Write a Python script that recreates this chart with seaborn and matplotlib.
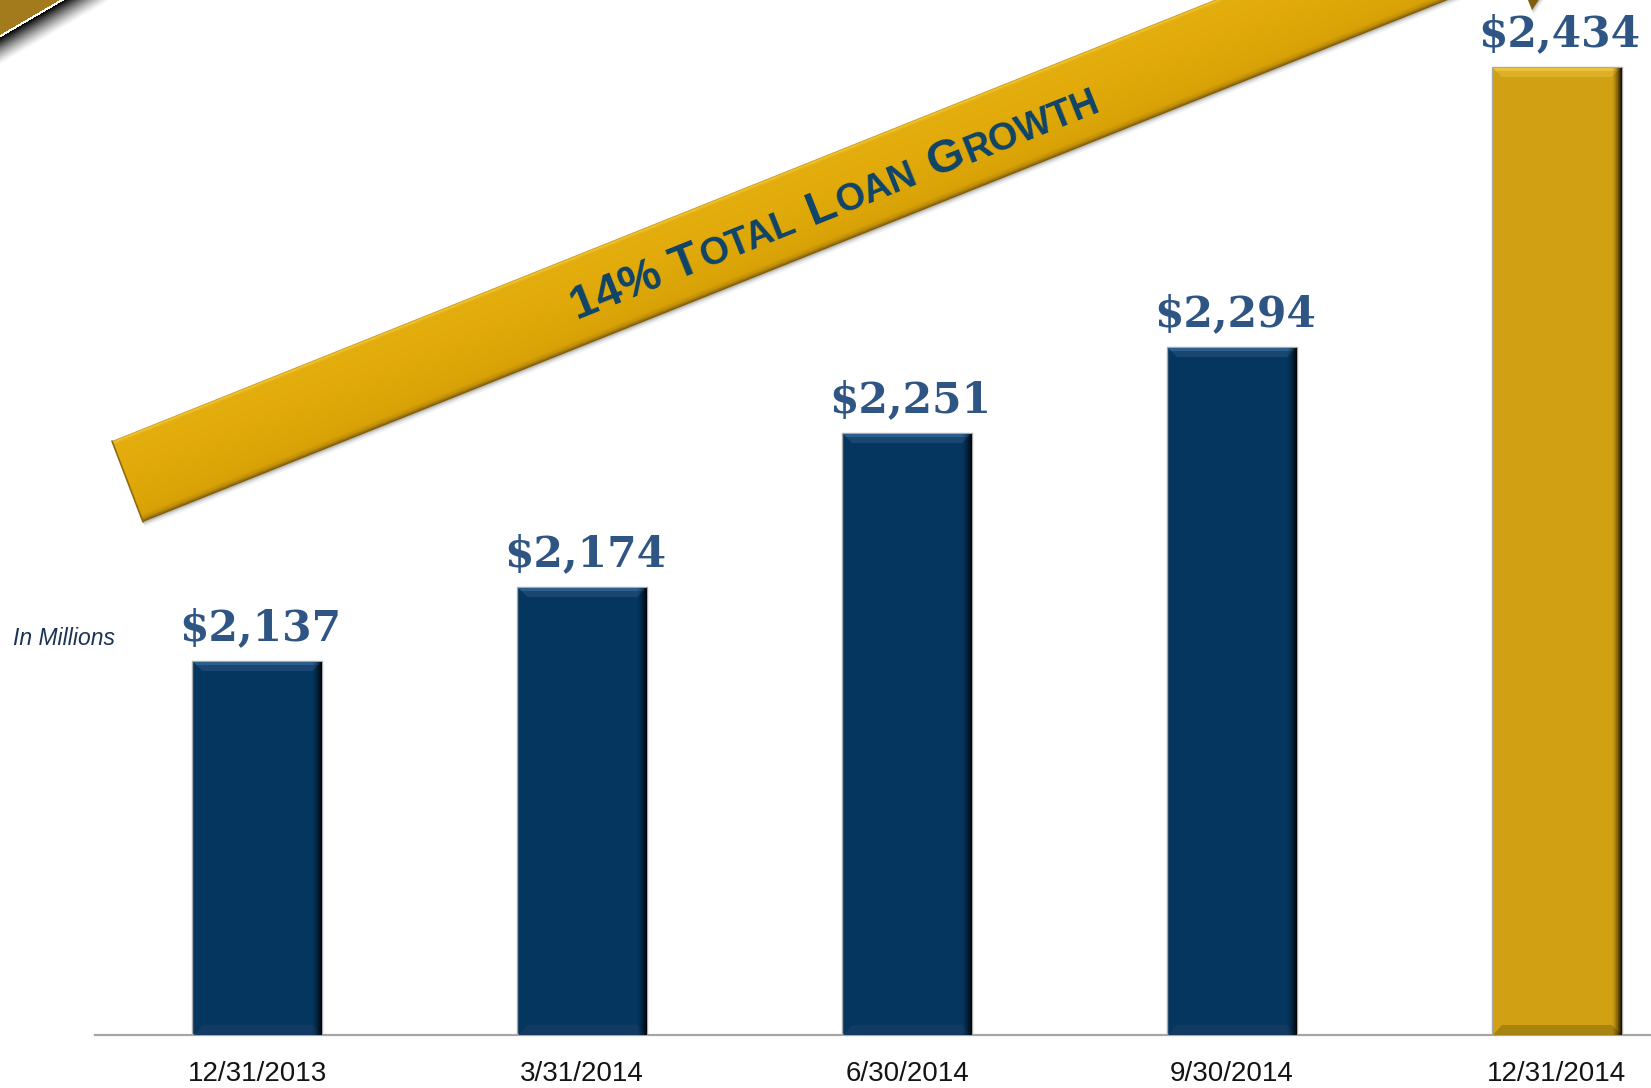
import numpy as np
import pandas as pd
import matplotlib
matplotlib.use("Agg")
import matplotlib.pyplot as plt
import seaborn as sns
from matplotlib.patches import Polygon, Rectangle

# ---- data -------------------------------------------------------------
quarters = ["12/31/2013", "3/31/2014", "6/30/2014", "9/30/2014", "12/31/2014"]
loans = [2137, 2174, 2251, 2294, 2434]          # total loans, $ millions
value_labels = ["$2,137", "$2,174", "$2,251", "$2,294", "$2,434"]
bar_colors = ["#05365F", "#05365F", "#05365F", "#05365F", "#D1A013"]
growth_pieces = [("14% T", 1.0), ("OTAL", 0.8), ("L", 1.0), ("OAN", 0.8),
                 ("G", 1.0), ("ROWTH", 0.8)]
growth_gaps = [0, 0, 1, 0, 1, 0]                # word space before piece
unit_note = "In Millions"

# ---- figure -----------------------------------------------------------
W, H = 1651, 1088
sns.set_theme(style="white")
fig = plt.figure(figsize=(W / 100, H / 100), dpi=100)
fig.patch.set_facecolor("white")

ax = fig.add_axes([95 / W, 53 / H, 1 - 95 / W, 1 - 53 / H])
df = pd.DataFrame({"quarter": quarters, "loans": loans})
sns.barplot(data=df, x="quarter", y="loans", hue="quarter", palette=bar_colors,
            width=0.40, saturation=1, legend=False, ax=ax,
            edgecolor="#A9A9A9", linewidth=1.0)
ax.set_ylim(1950, 2467.5)
ax.set_xlim(-0.5, 4.29)
ax.set_xlabel("")
ax.set_ylabel("")
ax.set_yticks([])
for side in ("left", "right", "top"):
    ax.spines[side].set_visible(False)
ax.spines["bottom"].set_color("#A6A6A6")
ax.spines["bottom"].set_linewidth(1.6)
ax.tick_params(axis="x", length=0, pad=19, labelsize=20, labelcolor="#141414")
for t in ax.get_xticklabels():
    t.set_fontfamily(["Liberation Sans", "DejaVu Sans"])
ax.patch.set_alpha(0)

for i, (v, lbl) in enumerate(zip(loans, value_labels)):
    ax.annotate(lbl, (i, v), xytext=(2, 15), textcoords="offset points",
                ha="center", va="baseline", fontsize=30.5, fontweight="bold",
                fontfamily=["DejaVu Serif"], color="#2E5584", zorder=5)

# ---- overlay in pixel coordinates (y down) -----------------------------
ov = fig.add_axes([0, 0, 1, 1], zorder=3)
ov.set_xlim(0, W)
ov.set_ylim(H, 0)
ov.axis("off")
ov.patch.set_alpha(0)

# bevels on the bars
fig.canvas.draw()
ylo = ax.get_ylim()[0]
bevel_cols = {"#05365F": ("#2E5E8C", "#1A4674", "#123A63"),
              "#D1A013": ("#EDC13A", "#DDB02A", "#A98310")}
for patch, col in zip(ax.patches, bar_colors):
    x0, w, top = patch.get_x(), patch.get_width(), patch.get_height()
    (L, yb), (R, yt) = ax.transData.transform([(x0, ylo), (x0 + w, top)])
    B, T = H - yb, H - yt
    hi, mid, lo = bevel_cols[col]
    b = 10
    ov.add_patch(Polygon([(L + 1, T + 1), (R - 1, T + 1), (R - b, T + b), (L + b, T + b)],
                         closed=True, fc=mid, ec="none"))
    ov.add_patch(Polygon([(L + 1, T + 1), (R - 1, T + 1), (R - 4, T + 4), (L + 4, T + 4)],
                         closed=True, fc=hi, ec="none"))
    ov.add_patch(Polygon([(L + 1, B), (R, B), (R - b, B - b), (L + b, B - b)],
                         closed=True, fc=lo, ec="none"))
    for k in range(10):
        a = ((k + 1) / 10) ** 1.6 * 0.9
        ov.add_patch(Rectangle((R - 10 + k, T + 1), 1, B - T - 1, fc="black",
                               ec="none", alpha=a))

# growth arrow band
ux, uy = np.array([1.0, -0.4]) / np.hypot(1.0, 0.4)      # along band
nx, ny = -uy, ux                                          # normal, pointing down
TL = np.array([112.0, 441.0])
BL = np.array([143.0, 522.0])
B1 = np.array([1532.0, 10.0])
n = np.array([nx, ny])
u = np.array([ux, uy])
Bb = B1 - 40.5 * n
Tb = B1 - 127.3 * n
B2 = B1 - 168.0 * n
tip = B1 - 84.0 * n + 125.0 * u
band_pts = [TL, BL, Bb, B1, tip, B2, Tb]

# soft shadow under the band
for off, a in ((5, 0.08), (3, 0.14), (1.5, 0.2)):
    ov.add_patch(Polygon([p + off * n for p in band_pts], closed=True,
                         fc="#555555", ec="none", alpha=a, zorder=1))

yy, xx = np.mgrid[0:H, 0:W] + 0.5
tdist = (xx - TL[0]) * nx + (yy - TL[1]) * ny            # 0 at top edge
stops = [-60, 0, 1.5, 4, 30, 60, 79, 83, 86, 200]
cols = np.array([
    [226, 170, 10], [200, 150, 20], [240, 196, 50], [228, 174, 14],
    [226, 171, 11], [221, 166, 8], [216, 161, 6], [190, 140, 8],
    [128, 94, 14], [128, 94, 14]]) / 255.0
img = np.dstack([np.interp(tdist, stops, cols[:, c]) for c in range(3)])
band_im = ov.imshow(img, extent=(0, W, H, 0), zorder=2, interpolation="bilinear")
clip = Polygon(band_pts, closed=True, fc="none", ec="none", transform=ov.transData)
ov.add_patch(clip)
band_im.set_clip_path(clip)
ov.plot([TL[0], BL[0]], [TL[1], BL[1]], color="#8E6B0C", lw=1.2, zorder=2.5)

# band caption in small caps along the band
renderer = fig.canvas.get_renderer()
big = 34
widths, sizes = [], []
for txt, scale in growth_pieces:
    t = ov.text(0, 0, txt, fontsize=big * scale, fontweight="bold",
                fontfamily=["Liberation Sans", "DejaVu Sans"])
    widths.append(t.get_window_extent(renderer).width)
    sizes.append(big * scale)
    t.remove()
space = 0.278 * big * 100 / 72
total = sum(widths) + space * sum(growth_gaps) + 2 * len(widths)
center = np.array([834.0, 199.0])
pos = center - total / 2 * u + 16.5 * n
angle = np.degrees(np.arctan(0.4))
for (txt, scale), wdt, fs, gap in zip(growth_pieces, widths, sizes, growth_gaps):
    pos = pos + gap * space * u
    ov.text(pos[0], pos[1], txt, fontsize=fs, fontweight="bold",
            fontfamily=["Liberation Sans", "DejaVu Sans"], color="#0F4468",
            rotation=angle, rotation_mode="anchor", ha="left", va="baseline",
            zorder=4)
    pos = pos + (wdt + 2) * u

# corner ribbon
d = (xx * 35 + yy * 60 - 60 * 35) / np.hypot(35, 60)
corner = np.zeros((H, W, 4))
gold = d < 0
corner[gold] = [163 / 255, 123 / 255, 28 / 255, 1]
white = (d >= 0) & (d < 2.2)
corner[white] = [1, 1, 1, 1]
shade = (d >= 2.2) & (d < 26)
corner[shade, 3] = np.clip(1 - (d[shade] - 2.2) / 23.8, 0, 1) ** 1.3
ov.imshow(corner, extent=(0, W, H, 0), zorder=2, interpolation="bilinear")

ov.text(13, 645, unit_note, fontsize=16.5, style="italic",
        fontfamily=["Liberation Sans Narrow", "Liberation Sans", "DejaVu Sans"],
        color="#1B3456", va="baseline", ha="left")

fig.savefig("out.png", dpi=100, facecolor="white")
